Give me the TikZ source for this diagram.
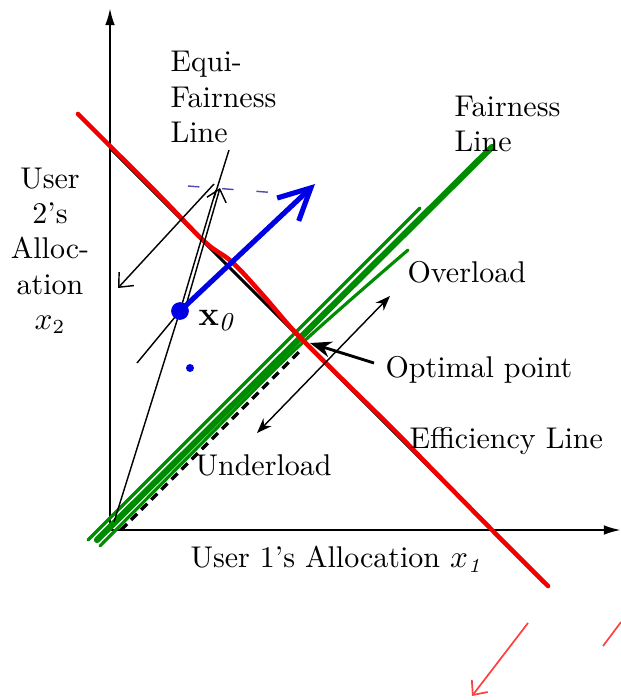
\documentclass[tikz,border=0pt]{standalone}
\usepackage{tikz}
\usetikzlibrary{arrows.meta}

\begin{document}
\begin{tikzpicture}[
    x=0.35pt, y=-0.35pt,
    label text/.style={font=\fontsize{10.5}{12.3}\selectfont, align=left, inner sep=0pt},
    axis line/.style={line width=0.8pt, -{Latex[length=6pt,width=3.4pt]}},
    eff line/.style={red!95!black, line width=1.6pt, line cap=round, line join=round},
    fair line/.style={green!55!black, line width=1.6pt, line cap=round},
    sketch line/.style={black, line width=0.5pt},
    barb/.style={-{Straight Barb[length=4pt,width=7pt]}},
    >=Stealth
]
    \useasboundingbox (0,0) rectangle (621,700);

    % Axes
    \coordinate (origin) at (110,530);
    \coordinate (ytop) at (110,8);
    \coordinate (xend) at (621,530);
    \draw[axis line] (origin) -- (ytop);
    \draw[axis line] (origin) -- (xend);

    % Axis labels
    \node[label text, align=center] (ylabel) at (50,251) {User\\2's\\Alloc-\\ation\\$x_2$};
    \node[label text, anchor=west] (xlabel) at (190,559) {User 1's Allocation $x_{\mathit{1}}$};

    % Original efficiency and fairness lines
    \coordinate (effTop) at (110,148);
    \coordinate (effBot) at (492,530);
    \draw[black, line width=1pt] (effTop) -- (effBot);
    \draw[black, line width=1.2pt, dash pattern=on 3pt off 2pt] (121,530) -- (300,351);

    % Fairness line (green strokes)
    \coordinate (fairTop) at (492,147);
    \draw[fair line, line width=1.2pt] (88,540) -- (420,208);
    \draw[fair line, line width=2.2pt] (97,540) -- (fairTop);
    \draw[fair line, line width=1.1pt] plot[smooth] coordinates {(100,546) (200,445) (300,345) (408,250)};

    % Efficiency line (red stroke)
    \draw[eff line] plot[smooth, tension=0.6] coordinates {(78,114) (110,146) (160,196) (205,242)
        (232,262) (262,294) (295,332) (340,377) (394,430) (430,467) (492,530) (548,586)};

    % Equi-fairness sketch
    \coordinate (x0) at (180,311);
    \coordinate (eqTop) at (216,190);
    \coordinate (eqTip) at (220,188);
    \coordinate (leftTip) at (118,288);
    \coordinate (eqStart) at (214,184);
    \draw[sketch line] (114,522) -- (x0) -- (eqTop);
    \draw[sketch line, barb] (187,302) -- (eqTip);
    \draw[sketch line, barb] (eqStart) -- (leftTip);
    \draw[sketch line] (137,363) -- (x0);
    \draw[blue!40!gray, line width=0.5pt, dash pattern=on 4pt off 8pt] (188,186) -- (278,193);

    % Labels
    \node[label text, anchor=west] (eqlabel) at (170,97) {Equi-\\Fairness\\Line};
    \node[label text, anchor=west] (fairlabel) at (454,124) {Fairness\\Line};
    \node[label text, anchor=west] (overlabel) at (407,272) {Overload};
    \node[label text, anchor=west] (optlabel) at (385,370) {Optimal point};
    \node[label text, anchor=west] (efflabel) at (409,441) {Efficiency Line};
    \node[label text, anchor=west] (underlabel) at (195,465) {Underload};
    \node[inner sep=0pt, anchor=west, font=\fontsize{13}{14}\selectfont] (x0label) at (198,320) {$\mathbf{x}_{\mathit{0}}$};

    % Pointer from equi-fairness label
    \coordinate (eqPointer) at (229,150);
    \draw[sketch line] (eqPointer) -- (214,198);

    % Overload / underload arrow
    \coordinate (overPt) at (390,296);
    \coordinate (underPt) at (257,433);
    \draw[<->, line width=0.5pt] (underPt) -- (overPt);

    % Optimal point arrow
    \coordinate (optTail) at (374,363);
    \coordinate (optPt) at (310,343);
    \draw[->, line width=1pt] (optTail) -- (optPt);

    % Blue move from x0
    \coordinate (blueTip) at (315,184);
    \draw[blue!90!black, line width=1.8pt, line cap=round, -{Straight Barb[length=11pt,width=11pt]}] (x0) -- (blueTip);
    \fill[blue!90!black] (x0) circle (3.1pt);
    \fill[blue!90!black] (190,368) circle (1.4pt);

    % Red marks at the bottom
    \coordinate (redStart) at (528,623);
    \coordinate (redTip) at (472,696);
    \draw[red!75, line width=0.6pt, barb] (redStart) -- (redTip);
    \draw[red!75, line width=0.6pt] (603,646) -- (621,622);
\end{tikzpicture}
\end{document}
